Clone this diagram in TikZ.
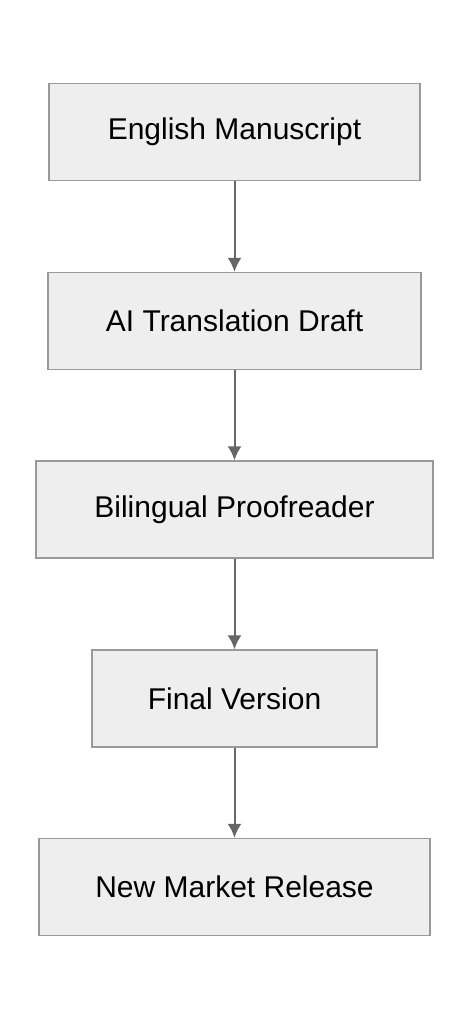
\documentclass[tikz,border=0pt]{standalone}
\usepackage{fontspec}
\setmainfont{Liberation Sans}
\usepackage{tikz}
\usetikzlibrary{positioning, arrows.meta}

\definecolor{boxfill}{HTML}{EEEEEE}
\definecolor{boxline}{HTML}{999999}
\definecolor{arrowline}{HTML}{666666}

\tikzset{
	stagebox/.style = {draw = boxline, fill = boxfill, line width = 1.4pt, minimum height = 97pt, font = \fontsize{30}{34}\selectfont},
	flowarrow/.style = {draw = arrowline, line width = 2pt, -{Latex[length=14pt, width=14pt]}}
}

\begin{document}
\begin{tikzpicture}[x = 1pt, y = -1pt]
			\useasboundingbox (0,0) rectangle (470,1020);
			
			\node [stagebox, minimum width = 371pt] (manuscript) at (234.5,132) {English Manuscript};
			\node [stagebox, minimum width = 373pt] (draft) at (234.5,321) {AI Translation Draft};
			\node [stagebox, minimum width = 397pt] (proofreader) at (234.5,509.5) {Bilingual Proofreader};
			\node [stagebox, minimum width = 285pt] (final) at (234.5,698.5) {Final Version};
			\node [stagebox, minimum width = 391pt] (release) at (234.5,887) {New Market Release};
			
			\begin{scope}[flowarrow]
				\draw (manuscript) -- (draft);
				\draw (draft) -- (proofreader);
				\draw (proofreader) -- (final);
				\draw (final) -- (release);
			\end{scope}
		\end{tikzpicture}
\end{document}
